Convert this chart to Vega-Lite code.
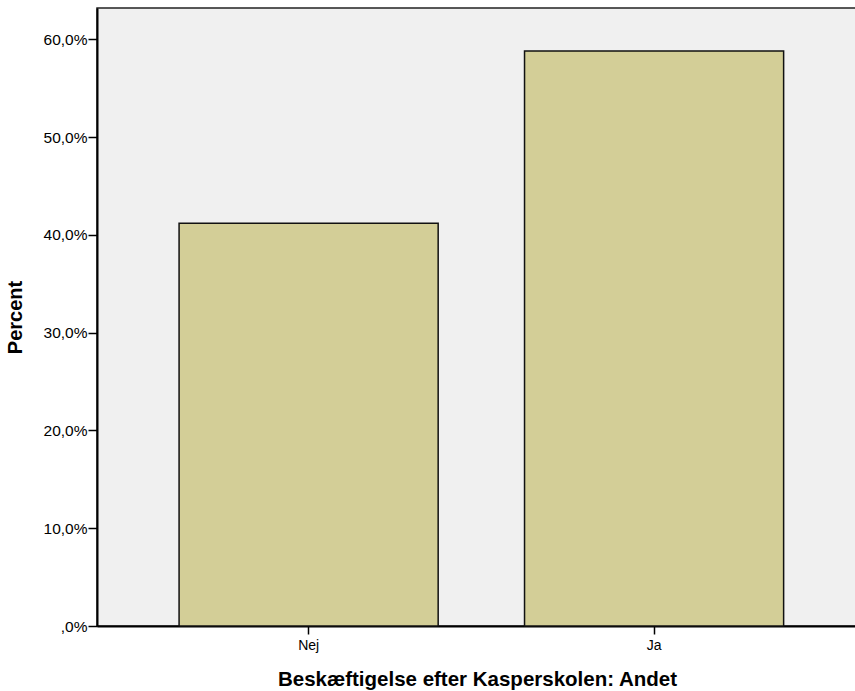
{
  "$schema": "https://vega.github.io/schema/vega-lite/v6.json",
  "autosize": {"type": "none"},
  "padding": {"left": 97, "top": 8, "right": 0, "bottom": 65},
  "width": 760,
  "height": 618,
  "background": "#ffffff",
  "config": {
    "font": "Liberation Sans",
    "view": {"fill": "#f0f0f0", "stroke": "#222222", "strokeWidth": 1.5}
  },
  "data": {
    "values": [
      {"category": "Nej", "percent": 41.2},
      {"category": "Ja", "percent": 58.8}
    ]
  },
  "mark": {"type": "bar", "color": "#d3ce97", "stroke": "#111111", "strokeWidth": 1.5},
  "encoding": {
    "x": {
      "field": "category",
      "type": "nominal",
      "sort": ["Nej", "Ja"],
      "scale": {"paddingInner": 0.25, "paddingOuter": 0.225, "align": 0.528},
      "axis": {
        "title": "Beskæftigelse efter Kasperskolen: Andet",
        "titleFont": "Liberation Sans",
        "titleFontSize": 20.5,
        "titleFontWeight": "bold",
        "titleColor": "#000000",
        "titlePadding": 17,
        "labelAngle": 0,
        "labelFontSize": 14,
        "labelColor": "#000000",
        "labelPadding": 4,
        "tickSize": 8,
        "tickWidth": 1.5,
        "tickColor": "#000000",
        "domainColor": "#000000",
        "domainWidth": 2,
        "grid": false
      }
    },
    "y": {
      "field": "percent",
      "type": "quantitative",
      "scale": {"domain": [0, 63.2], "nice": false},
      "axis": {
        "title": "Percent",
        "titleFontSize": 20,
        "titleFontWeight": "bold",
        "titleColor": "#000000",
        "titlePadding": 18,
        "values": [0, 10, 20, 30, 40, 50, 60],
        "labelExpr": "datum.value == 0 ? ',0%' : replace(format(datum.value, '.1f'), '.', ',') + '%'",
        "labelFontSize": 15.5,
        "labelColor": "#000000",
        "labelPadding": 1,
        "tickSize": 9,
        "tickWidth": 1.5,
        "tickColor": "#000000",
        "domainColor": "#000000",
        "domainWidth": 2,
        "grid": false
      }
    }
  }
}
